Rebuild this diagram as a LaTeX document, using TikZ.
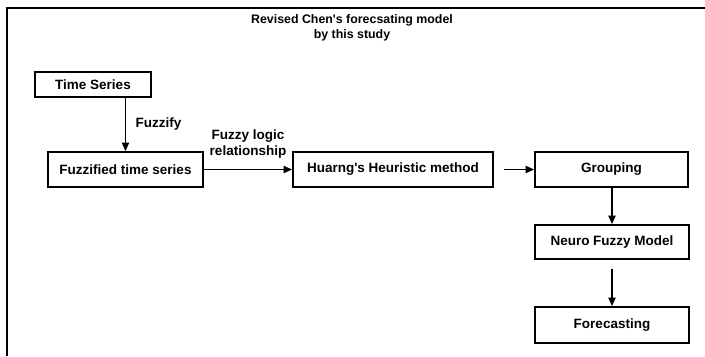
\documentclass[tikz,border=0pt]{standalone}
\usepackage{fontspec}
\setmainfont{Liberation Sans}
\usepackage{tikz}
\usetikzlibrary{arrows.meta, positioning}
\tikzstyle{process} = [rectangle, minimum height=0.875cm, text centered, align=center, draw=black, line width=1.3pt, inner sep=2pt, font=\fontsize{9.6}{11}\selectfont\bfseries]
\tikzstyle{arrow} = [line width=1pt, -{Triangle[length=2.1mm, width=1.8mm]}]
\tikzstyle{label} = [font=\fontsize{9.6}{11.5}\selectfont\bfseries, inner sep=1pt]

\begin{document}
\begin{tikzpicture}[x=0.025cm, y=-0.025cm]
    \useasboundingbox (0,0) rectangle (705,356);
    % Frame
    \draw [line width=1.3pt] (7,356) -- (7,8) -- (705,8);
    \node (title) [label, align=center, font=\fontsize{8.8}{10.8}\selectfont\bfseries] at (352,28) {Revised Chen\textquotesingle s forecsating model\\by this study};

    % Nodes
    \node (series) [process, minimum width=2.9cm, minimum height=0.625cm] at (93,84.5) {Time Series};
    \node (fuzzified) [process, minimum width=3.875cm] at (125.5,169.5) {Fuzzified time series};
    \node (huarng) [process, minimum width=5cm] at (393,169.5) {Huarng\textquotesingle s Heuristic method};
    \node (grouping) [process, minimum width=3.825cm] at (611.5,169.5) {Grouping};
    \node (neuro) [process, minimum width=3.85cm, minimum height=0.85cm] at (612,242) {Neuro Fuzzy Model};
    \node (forecast) [process, minimum width=3.85cm, minimum height=0.9cm] at (612,325) {Forecasting};

    % Arrows
    \draw [arrow] (fuzzified.north |- series.south) -- node[label, right=0.2cm] {Fuzzify} (fuzzified.north);
    \draw [arrow] (fuzzified) -- node[label, align=center, above=0.22cm] {Fuzzy logic\\relationship} (huarng);
    \draw [arrow, shorten <=0.25cm] (huarng) -- (grouping);
    \draw [arrow] (grouping.south -| neuro.north) -- (neuro.north);
    \draw [arrow, shorten <=0.22cm] (neuro) -- (forecast);
\end{tikzpicture}
\end{document}
